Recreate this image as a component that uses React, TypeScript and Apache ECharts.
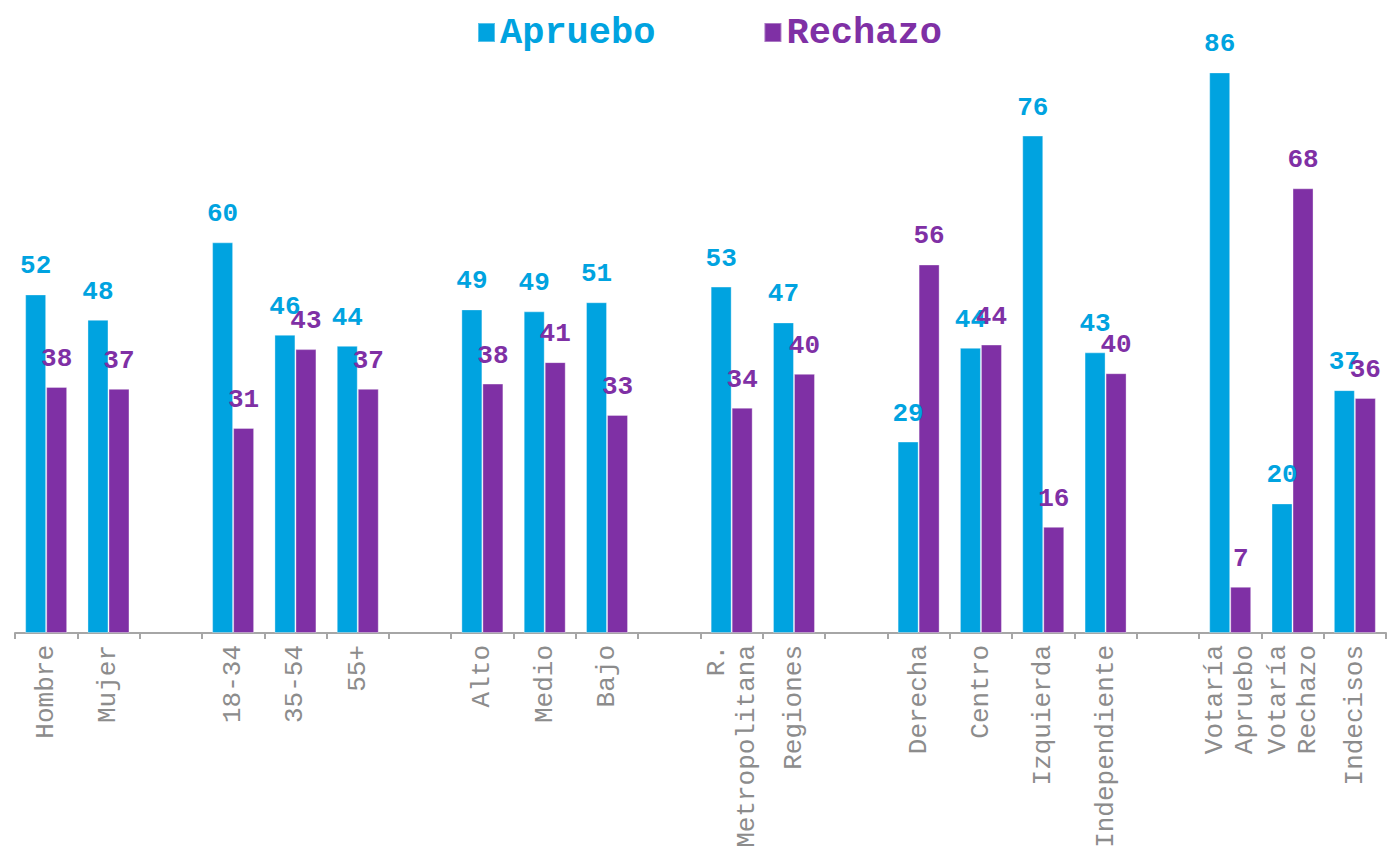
import React, { useEffect, useRef } from "react";
import * as echarts from "echarts";

const categories = [
  "Hombre", "Mujer", "",
  "18-34", "35-54", "55+", "",
  "Alto", "Medio", "Bajo", "",
  "R.\nMetropolitana", "Regiones", "",
  "Derecha", "Centro", "Izquierda", "Independiente", "",
  "Votaría\nApruebo", "Votaría\nRechazo", "Indecisos",
];
// bar heights
const apruebo = [52.0, 48.1, null, 60.0, 45.8, 44.1, null, 49.7, 49.4, 50.8, null, 53.2, 47.7, null, 29.4, 43.8, 76.4, 43.1, null, 86.1, 19.9, 37.3];
const rechazo = [37.8, 37.5, null, 31.5, 43.6, 37.5, null, 38.3, 41.6, 33.5, null, 34.6, 39.8, null, 56.6, 44.3, 16.3, 39.9, null, 7.1, 68.3, 36.1];
// value labels as printed in the picture
const aprueboLabels = ["52", "48", "", "60", "46", "44", "", "49", "49", "51", "", "53", "47", "", "29", "44", "76", "43", "", "86", "20", "37"];
const rechazoLabels = ["38", "37", "", "31", "43", "37", "", "38", "41", "33", "", "34", "40", "", "56", "44", "16", "40", "", "7", "68", "36"];
const seriesNames = ["Apruebo", "Rechazo"];

const BLUE = "#00A3E0";
const PURPLE = "#7F30A5";
const FONT = "'Liberation Mono', 'Courier New', monospace";

export default function App() {
  const ref = useRef<HTMLDivElement>(null);
  useEffect(() => {
    if (!ref.current) return;
    const chart = echarts.init(ref.current, undefined, { renderer: "svg" });
    const mkSeries = (name: string, data: (number | null)[], labels: string[], color: string) => ({
      name,
      type: "bar",
      data: data.map((v) => (v === null ? "-" : v)),
      barWidth: 21,
      barGap: "0%",
      itemStyle: { color, borderColor: "rgba(255,255,255,0.35)", borderWidth: 1 },
      label: {
        show: true,
        position: "top",
        distance: 15,
        color,
        fontFamily: FONT,
        fontWeight: "bold",
        fontSize: 26,
        formatter: (p: any) => labels[p.dataIndex],
      },
    });
    chart.setOption({
      animation: false,
      backgroundColor: "#ffffff",
      color: [BLUE, PURPLE],
      legend: {
        top: 1,
        left: 464,
        itemWidth: 17,
        itemHeight: 19,
        itemGap: 108,
        icon: "rect",
        data: [
          { name: seriesNames[0], textStyle: { color: BLUE } },
          { name: seriesNames[1], textStyle: { color: PURPLE } },
        ],
        textStyle: { fontFamily: FONT, fontWeight: "bold", fontSize: 37 },
      },
      grid: { left: 7, right: 4, top: 39, bottom: 218, containLabel: false },
      xAxis: {
        type: "category",
        data: categories,
        axisLine: { lineStyle: { color: "#A6A6A6", width: 2 } },
        axisTick: { show: true, length: 6, lineStyle: { color: "#A6A6A6", width: 2 } },
        axisLabel: {
          interval: 0,
          rotate: 90,
          margin: 12,
          color: "#8C8C8C",
          fontFamily: FONT,
          fontSize: 26,
          lineHeight: 30,
        },
      },
      yAxis: {
        type: "value",
        min: 0,
        max: 90,
        show: false,
        splitLine: { show: false },
      },
      series: [
        mkSeries(seriesNames[0], apruebo, aprueboLabels, BLUE),
        mkSeries(seriesNames[1], rechazo, rechazoLabels, PURPLE),
      ],
    });
    return () => chart.dispose();
  }, []);
  return <div ref={ref} style={{ width: 1382, height: 843 }} />;
}
